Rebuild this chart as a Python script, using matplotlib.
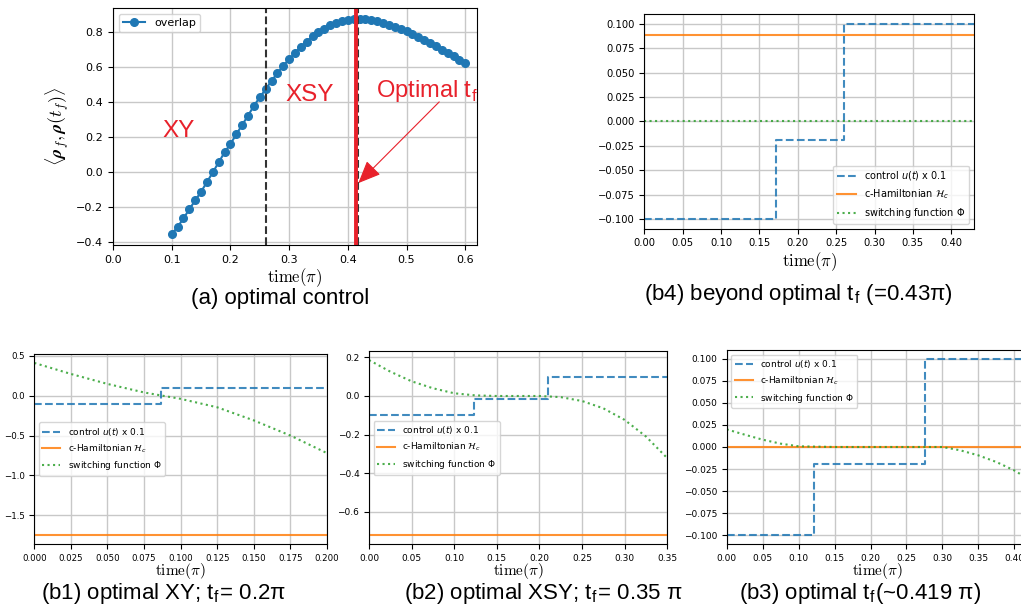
import numpy as np
import matplotlib
matplotlib.use("Agg")
import matplotlib.pyplot as plt

plt.rcParams["mathtext.fontset"] = "cm"

RED = "#e8212b"
C_U, C_H, C_PHI = "#1f77b4", "#ff7f0e", "#2ca02c"

# ---- (a) overlap versus final time ----
t_overlap = np.round(np.arange(0.10, 0.6001, 0.01), 2)
overlap = [
    -0.356, -0.314, -0.266, -0.213, -0.163, -0.113, -0.058, -0.002, 0.055, 0.112,
    0.160, 0.215, 0.269, 0.322, 0.378, 0.427, 0.473, 0.521, 0.565, 0.607,
    0.645, 0.680, 0.716, 0.746, 0.775, 0.800, 0.819, 0.838, 0.852, 0.862,
    0.870, 0.875, 0.876, 0.875, 0.869, 0.862, 0.853, 0.843, 0.831, 0.818,
    0.804, 0.789, 0.773, 0.756, 0.738, 0.719, 0.700, 0.681, 0.661, 0.641,
    0.621,
]
t_switch_xy_xsy = 0.26
t_opt_dashed = 0.418
t_opt_red = 0.4145

# ---- (b) control, c-Hamiltonian, switching function ----
# b1: optimal XY, tf = 0.2
b1_tf = 0.20
b1_u_t = [0.0, 0.0868, b1_tf]
b1_u = [-1.0, 1.0, 1.0]
b1_H = -1.75
b1_phi_t = [0.0, 0.025, 0.05, 0.075, 0.1, 0.125, 0.15, 0.175, 0.2]
b1_phi = [0.41, 0.272, 0.147, 0.040, -0.040, -0.146, -0.310, -0.500, -0.720]

# b2: optimal XSY, tf = 0.35
b2_tf = 0.35
b2_u_t = [0.0, 0.1228, 0.2097, b2_tf]
b2_u = [-1.0, -0.18, 1.0, 1.0]
b2_H = -0.721
b2_phi_t = [0.0, 0.025, 0.05, 0.075, 0.1, 0.125, 0.15, 0.175, 0.2, 0.225,
            0.25, 0.275, 0.3, 0.325, 0.35]
b2_phi = [0.186, 0.126, 0.076, 0.040, 0.014, 0.003, 0.0, 0.0, 0.0, -0.006,
          -0.026, -0.064, -0.124, -0.210, -0.322]

# b3: optimal tf ~ 0.419
b3_tf = 0.419
b3_u_t = [0.0, 0.1213, 0.2764, b3_tf]
b3_u = [-1.0, -0.19, 1.0, 1.0]
b3_H = 0.0005
b3_phi_t = [0.0, 0.025, 0.05, 0.075, 0.1, 0.15, 0.2, 0.25, 0.3, 0.325,
            0.35, 0.375, 0.4, 0.419]
b3_phi = [0.020, 0.014, 0.0083, 0.0038, 0.0008, 0.0, 0.0, 0.0, 0.0, -0.0038,
          -0.0095, -0.017, -0.0266, -0.036]

# b4: beyond optimal tf = 0.43
b4_tf = 0.43
b4_u_t = [0.0, 0.171, 0.260, b4_tf]
b4_u = [-1.0, -0.187, 1.0, 1.0]
b4_H = 0.088
b4_phi_t = [0.0, b4_tf]
b4_phi = [0.0, 0.0]

U_SCALE = 0.1

fig = plt.figure(figsize=(10.21, 6.09), dpi=100)
W, H = 1021.0, 609.0


def axes_px(left, top, right, bottom):
    return fig.add_axes([left / W, 1 - bottom / H, (right - left) / W, (bottom - top) / H])


def xlabel(ax, size, pad):
    ax.set_xlabel(r"$\mathrm{time}(\pi)$", fontsize=size, labelpad=pad)


# ---------- panel (a) ----------
ax = axes_px(113, 8, 477, 245)
ax.plot(t_overlap, overlap, "o-", color=C_U, ms=5.5, lw=1.5, label="overlap")
ax.axvline(t_switch_xy_xsy, color="#333333", ls="--", lw=1.5)
ax.axvline(t_opt_dashed, color="#333333", ls="--", lw=1.5)
ax.axvline(t_opt_red, color=RED, lw=2.8)
ax.set_xlim(0.0, 0.62)
ax.grid(True, color="#c8c8c8", lw=1.0)
ax.tick_params(labelsize=8)
ax.legend(loc="upper left", fontsize=8)
xlabel(ax, 12, 1)
ax.set_ylabel(r"$\langle \boldsymbol{\rho}_f, \boldsymbol{\rho}(t_f) \rangle$", fontsize=13)
ax.text(0.085, 0.202, "XY", color=RED, fontsize=17.5, family="Liberation Sans")
ax.text(0.294, 0.408, "XSY", color=RED, fontsize=17.5, family="Liberation Sans")
ax.text(0.4484, 0.427, r"Optimal t$_\mathregular{f}$", color=RED, fontsize=17,
        family="Liberation Sans")
ax.annotate("", xy=(0.4145, -0.075), xytext=(0.559, 0.412),
            arrowprops=dict(arrowstyle="-|>,head_length=0.7,head_width=0.3",
                            color=RED, lw=0.8, mutation_scale=20))


def control_panel(ax, u_t, u, Hc, phi_t, phi, tf, tick_size, leg_size, loc, lab_size, pad):
    u_scaled = [U_SCALE * v for v in u]
    ax.plot(u_t, u_scaled, ls="--", color=C_U, lw=1.5, alpha=0.85,
            drawstyle="steps-post", label=r"control $u(t)$ x 0.1")
    ax.plot([0, tf], [Hc, Hc], color=C_H, lw=1.5, alpha=0.85,
            label=r"c-Hamiltonian $\mathcal{H}_c$")
    ax.plot(phi_t, phi, ls=":", color=C_PHI, lw=1.5, alpha=0.85,
            label=r"switching function $\Phi$")
    ax.set_xlim(0, tf)
    ax.grid(True, color="#c8c8c8", lw=1.0)
    ax.tick_params(labelsize=tick_size)
    leg = ax.legend(loc=loc, fontsize=leg_size)
    for txt in leg.get_texts():
        txt.set_math_fontfamily("dejavusans")
    xlabel(ax, lab_size, pad)


# ---------- panel (b4) ----------
ax = axes_px(644.3, 14, 974.3, 228.7)
control_panel(ax, b4_u_t, b4_u, b4_H, b4_phi_t, b4_phi, b4_tf, 7.2, 7, "lower right", 12, 1)

# ---------- panel (b1) ----------
ax = axes_px(34.3, 354.3, 327, 544)
control_panel(ax, b1_u_t, b1_u, b1_H, b1_phi_t, b1_phi, b1_tf, 6.2, 6.5, "center left", 11, -1)

# ---------- panel (b2) ----------
ax = axes_px(369, 351.3, 667.3, 544)
control_panel(ax, b2_u_t, b2_u, b2_H, b2_phi_t, b2_phi, b2_tf, 6.5, 6.5, "center left", 11, -1)

# ---------- panel (b3) ----------
ax = axes_px(726.7, 350, 1028, 544)
control_panel(ax, b3_u_t, b3_u, b3_H, b3_phi_t, b3_phi, b3_tf, 6.5, 6.5, "upper left", 11, -1)

# ---------- captions ----------
cap = dict(ha="center", va="center", fontsize=16, family="Liberation Sans")
fig.text(280 / W, 1 - 298 / H, "(a) optimal control", **cap)
fig.text(798 / W, 1 - 294 / H, r"(b4) beyond optimal t$_\mathregular{f}$ (=0.43π)", **cap)
fig.text(164 / W, 1 - 593 / H, r"(b1) optimal XY; t$_\mathregular{f}$= 0.2π", **cap)
fig.text(543 / W, 1 - 593 / H, r"(b2) optimal XSY; t$_\mathregular{f}$= 0.35 π", **cap)
fig.text(860 / W, 1 - 593 / H, r"(b3) optimal t$_\mathregular{f}$(~0.419 π)", **cap)

fig.savefig("out.png", dpi=100)
